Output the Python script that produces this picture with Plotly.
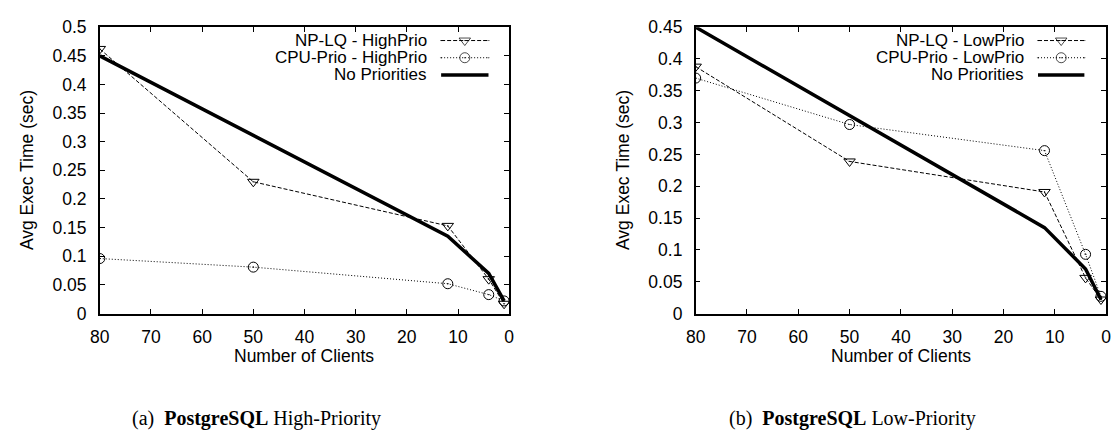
import plotly.graph_objects as go

# ---- data -------------------------------------------------------------
clients = [80, 50, 12, 4, 1]

high_nplq = [0.462, 0.230, 0.153, 0.060, 0.017]
high_cpu = [0.096, 0.081, 0.052, 0.033, 0.022]
low_nplq = [0.388, 0.239, 0.191, 0.056, 0.022]
low_cpu = [0.370, 0.297, 0.256, 0.093, 0.027]
no_prio = [0.450, 0.311, 0.135, 0.070, 0.022]

left_yticks = [0, 0.05, 0.1, 0.15, 0.2, 0.25, 0.3, 0.35, 0.4, 0.45, 0.5]
left_yticktext = ["0", "0.05", "0.1", "0.15", "0.2", "0.25", "0.3", "0.35", "0.4", "0.45", "0.5"]
right_yticks = left_yticks[:-1]
right_yticktext = left_yticktext[:-1]
xticks = [80, 70, 60, 50, 40, 30, 20, 10, 0]

legend_high = ["NP-LQ - HighPrio", "CPU-Prio - HighPrio", "No Priorities"]
legend_low = ["NP-LQ - LowPrio", "CPU-Prio - LowPrio", "No Priorities"]

# ---- geometry ---------------------------------------------------------
W, H = 1117, 439
SANS = "Liberation Sans, Arial, Helvetica, sans-serif"
SERIF = "Liberation Serif, Times New Roman, serif"
FS = 17.5
KEY_FS = 17


def px_x(p):
    return p / W


def px_y(p):
    return 1 - p / H


panels = [
    dict(left=91, right=506, ymax=0.5, yt=left_yticks, ytt=left_yticktext,
         series=(high_nplq, high_cpu), names=legend_high,
         caption="(a)\u00a0\u00a0<b>PostgreSQL</b> High-Priority", cap_x=122,
         key_text_right=425, key_x0=437, key_x1=485),
    dict(left=695, right=1111, ymax=0.45, yt=right_yticks, ytt=right_yticktext,
         series=(low_nplq, low_cpu), names=legend_low,
         caption="(b)\u00a0\u00a0<b>PostgreSQL</b> Low-Priority", cap_x=727,
         key_text_right=1030, key_x0=1042, key_x1=1089),
]
TOP, BOTTOM = 18, 318

styles = [
    dict(line=dict(color="black", width=1, dash="4px,2px"),
         marker=dict(symbol="triangle-down-open-dot", size=10, color="black",
                     line=dict(width=1, color="black"))),
    dict(line=dict(color="black", width=1, dash="1px,2px"),
         marker=dict(symbol="circle-open-dot", size=10, color="black",
                     line=dict(width=1, color="black"))),
    dict(line=dict(color="black", width=3.5), marker=None),
]

fig = go.Figure()
annotations = []
axis_font = dict(family=SANS, size=FS, color="black")
key_font = dict(family=SANS, size=KEY_FS, color="black")

for i, p in enumerate(panels):
    n = i + 1
    xa = "x" if n == 1 else f"x{n}"
    ya = "y" if n == 1 else f"y{n}"
    data = [p["series"][0], p["series"][1], no_prio]
    # No Priorities drawn last so it sits on top
    for k, vals in enumerate(data):
        st = styles[k]
        kw = dict(x=clients, y=vals, xaxis=xa, yaxis=ya, name=p["names"][k],
                  showlegend=False, line=st["line"], hoverinfo="x+y")
        if st["marker"] is not None:
            kw.update(mode="lines+markers", marker=st["marker"])
        else:
            kw.update(mode="lines")
        fig.add_trace(go.Scatter(**kw))

    common = dict(showline=True, linecolor="black", linewidth=1.5, mirror="allticks",
                  ticks="inside", ticklen=5, tickwidth=1, tickcolor="black",
                  showgrid=False, zeroline=False, tickfont=axis_font)
    fig.update_layout(**{
        ("xaxis" if n == 1 else f"xaxis{n}"): dict(
            domain=[px_x(p["left"]), px_x(p["right"])], range=[80, 0],
            tickvals=xticks, ticktext=[str(t) for t in xticks],
            anchor=ya, ticklabelstandoff=7, **common),
        ("yaxis" if n == 1 else f"yaxis{n}"): dict(
            domain=[px_y(BOTTOM), px_y(TOP)], range=[0, p["ymax"]],
            tickvals=p["yt"], ticktext=p["ytt"], anchor=xa,
            ticklabelstandoff=8, **common),
    })

    cx = (p["left"] + p["right"]) / 2
    annotations.append(dict(text="Number of Clients", x=px_x(cx), y=px_y(363),
                            xref="paper", yref="paper", showarrow=False,
                            xanchor="center", yanchor="middle", font=axis_font))
    annotations.append(dict(text="Avg Exec Time (sec)", x=px_x(p["left"] - 73),
                            y=px_y((TOP + BOTTOM) / 2), xref="paper", yref="paper",
                            showarrow=False, textangle=-90, xanchor="center",
                            yanchor="middle", font=axis_font))
    annotations.append(dict(text=p["caption"], x=px_x(p["cap_x"]), y=px_y(428),
                            xref="paper", yref="paper", showarrow=False,
                            xanchor="left", yanchor="middle",
                            font=dict(family=SERIF, size=20, color="black")))

    # gnuplot-style key: right-aligned label followed by a line sample
    for k, name in enumerate(p["names"]):
        row_y = 32 + 18 * k
        annotations.append(dict(text=name, x=px_x(p["key_text_right"]), y=px_y(row_y),
                                xref="paper", yref="paper", showarrow=False,
                                xanchor="right", yanchor="middle", font=key_font))
        st = styles[k]
        x0, x1 = p["key_x0"], p["key_x1"]
        kx = [x0, (x0 + x1) / 2, x1]
        kw = dict(x=kx, y=[row_y] * 3, xaxis="x9", yaxis="y9", showlegend=False,
                  line=st["line"], hoverinfo="skip")
        if st["marker"] is not None:
            m = dict(st["marker"])
            m["size"] = [0, 10, 0]
            kw.update(mode="lines+markers", marker=m)
        else:
            kw.update(mode="lines")
        fig.add_trace(go.Scatter(**kw))

# pixel-space overlay used for the key samples
fig.update_layout(
    xaxis9=dict(domain=[0, 1], range=[0, W], visible=False, anchor="y9", fixedrange=True),
    yaxis9=dict(domain=[0, 1], range=[H, 0], visible=False, anchor="x9", fixedrange=True),
)

fig.update_layout(
    width=W, height=H, margin=dict(l=0, r=0, t=0, b=0),
    paper_bgcolor="white", plot_bgcolor="rgba(0,0,0,0)",
    annotations=annotations, showlegend=False,
    font=dict(family=SANS, size=FS, color="black"),
)

# the figure fills the page exactly, so drop the default body margin
fig.write_html("out.html", post_script="document.body.style.margin = '0';")
